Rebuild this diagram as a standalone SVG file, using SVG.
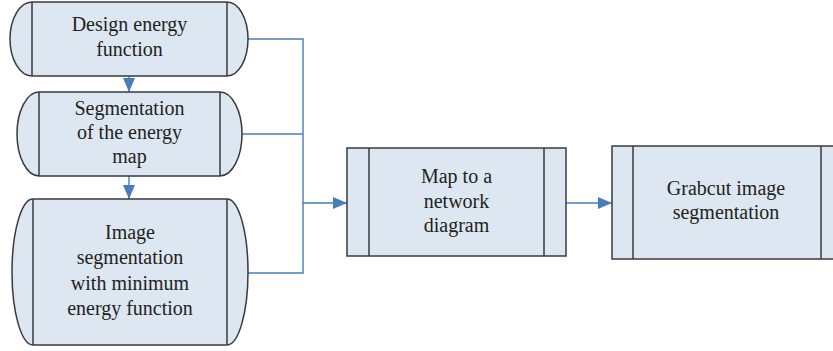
<svg xmlns="http://www.w3.org/2000/svg" width="833" height="351" viewBox="0 0 833 351">
  <defs>
    <marker id="arrow" markerUnits="userSpaceOnUse" markerWidth="14" markerHeight="12" refX="14" refY="6" orient="auto">
      <path d="M0,0 L14,6 L0,12 Z" fill="#4a7bbf"/>
    </marker>
  </defs>
  <style>
    .shape { fill: #dde7f2; stroke: #3a3a3a; stroke-width: 1.5; }
    .bar { fill: none; stroke: #3a3a3a; stroke-width: 1.5; }
    .label { font-size: 20px; fill: #231f20; text-anchor: middle; }
    .conn { fill: none; stroke: #4a7bbf; stroke-width: 1.4; }
  </style>
  <rect width="833" height="351" fill="#ffffff"/>

  <!-- connectors -->
  <g id="connectors">
    <path class="conn" d="M129,76 V92" marker-end="url(#arrow)"/>
    <path class="conn" d="M129,176 V199" marker-end="url(#arrow)"/>
    <path class="conn" d="M248,39 H303 V203 H347" marker-end="url(#arrow)"/>
    <path class="conn" d="M242,134 H303"/>
    <path class="conn" d="M248,273 H303 V203"/>
    <path class="conn" d="M566,203 H612" marker-end="url(#arrow)"/>
  </g>

  <g font-family="'Liberation Serif', 'Times New Roman', 'DejaVu Serif', serif">
  <!-- left column: rounded-end process blocks -->
  <g id="design-energy">
    <path class="shape" d="M32,2 H227 A21,37 0 0 1 227,76 H32 A22,37 0 0 1 32,2 Z"/>
    <path class="bar" d="M32,2 V76 M227,2 V76"/>
    <text class="label" x="129.5" y="31">Design energy</text>
    <text class="label" x="129.5" y="56">function</text>
  </g>

  <g id="segment-energy-map">
    <path class="shape" d="M39,92 H220 A22,42 0 0 1 220,176 H39 A22,42 0 0 1 39,92 Z"/>
    <path class="bar" d="M39,92 V176 M220,92 V176"/>
    <text class="label" x="129.5" y="115">Segmentation</text>
    <text class="label" x="129.5" y="139">of the energy</text>
    <text class="label" x="129.5" y="163">map</text>
  </g>

  <g id="min-energy-segmentation">
    <path class="shape" d="M33,199 H227 A21,73 0 0 1 227,345 H33 A21,73 0 0 1 33,199 Z"/>
    <path class="bar" d="M33,199 V345 M227,199 V345"/>
    <text class="label" x="130" y="239">Image</text>
    <text class="label" x="130" y="264">segmentation</text>
    <text class="label" x="130" y="290">with minimum</text>
    <text class="label" x="130" y="315">energy function</text>
  </g>

  <!-- predefined-process blocks -->
  <g id="network-diagram">
    <rect class="shape" x="347" y="148" width="219" height="108"/>
    <path class="bar" d="M369,148 V256 M544,148 V256"/>
    <text class="label" x="456.5" y="183">Map to a</text>
    <text class="label" x="456.5" y="208">network</text>
    <text class="label" x="456.5" y="232">diagram</text>
  </g>

  <g id="grabcut">
    <rect class="shape" x="612" y="146" width="230" height="113"/>
    <path class="bar" d="M633,146 V259 M821,146 V259"/>
    <text class="label" x="726" y="195">Grabcut image</text>
    <text class="label" x="726" y="219">segmentation</text>
  </g>
  </g>
</svg>
